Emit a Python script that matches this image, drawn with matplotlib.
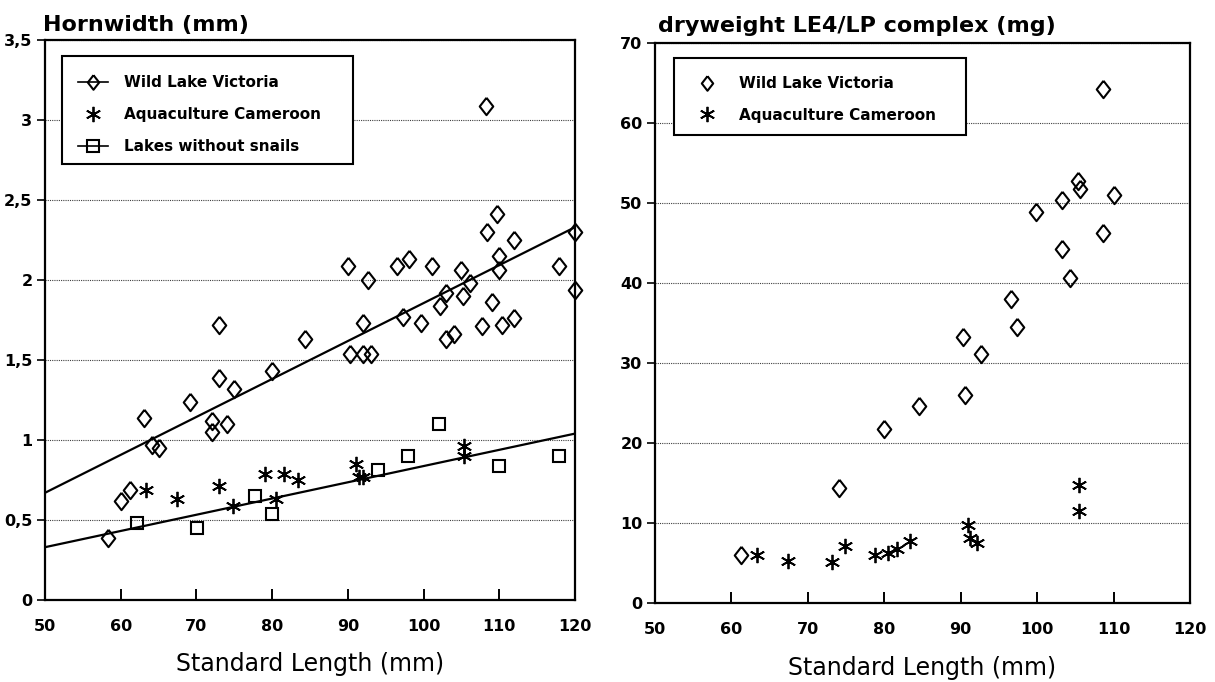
import matplotlib
matplotlib.use("Agg")

import matplotlib.pyplot as plt
from matplotlib.lines import Line2D
from matplotlib.patches import Rectangle

plt.rcParams["font.family"] = ["DejaVu Sans"]

# --- left panel: horn width vs standard length ---
wild_sl = [58.3, 60.1, 61.2, 63.1, 64.1, 65.0, 69.1, 72.1, 72.1, 73.0, 73.0, 74.0,
           75.0, 80.0, 84.3, 90.0, 90.3, 92.0, 92.0, 92.6, 93.1, 96.5, 97.3, 98.1,
           99.7, 101.1, 102.2, 102.9, 103.0, 104.0, 104.9, 105.2, 106.1, 107.7, 108.2,
           108.4, 109.0, 109.7, 110.0, 110.0, 110.4, 111.9, 111.9, 117.9, 120.0, 120.0]
wild_hw = [0.39, 0.62, 0.69, 1.14, 0.97, 0.95, 1.24, 1.12, 1.05, 1.72, 1.39, 1.10,
           1.32, 1.43, 1.63, 2.09, 1.54, 1.73, 1.54, 2.00, 1.54, 2.09, 1.77, 2.13,
           1.73, 2.09, 1.84, 1.63, 1.92, 1.66, 2.06, 1.90, 1.98, 1.71, 3.09,
           2.30, 1.86, 2.41, 2.15, 2.06, 1.72, 2.25, 1.76, 2.09, 2.30, 1.94]

aqua_sl = [63.3, 67.4, 73.0, 74.8, 79.0, 80.5, 81.6, 83.4, 91.1, 91.5, 92.0, 105.4, 105.4]
aqua_hw = [0.69, 0.63, 0.71, 0.59, 0.79, 0.63, 0.79, 0.75, 0.85, 0.77, 0.77, 0.96, 0.90]

nosnail_sl = [62.1, 70.1, 77.7, 80.0, 94.0, 97.9, 102.1, 110.0, 117.9]
nosnail_hw = [0.48, 0.45, 0.65, 0.54, 0.81, 0.90, 1.10, 0.84, 0.90]

# regression lines (end points)
fit_sl = [50, 120]
wild_fit = [0.67, 2.33]
pooled_fit = [0.33, 1.04]

hw_ticks = [0, 0.5, 1, 1.5, 2, 2.5, 3, 3.5]
hw_ticklabels = ["0", "0,5", "1", "1,5", "2", "2,5", "3", "3,5"]

# --- right panel: dry weight vs standard length ---
wild_sl_dw = [61.2, 74.1, 80.0, 84.5, 90.3, 90.5, 92.7, 96.6, 97.3, 99.9, 103.2,
              103.3, 104.3, 105.3, 105.6, 108.6, 108.6, 110.0]
wild_dw = [6.0, 14.4, 21.8, 24.6, 33.2, 26.0, 31.1, 38.0, 34.5, 48.9, 44.2,
           50.4, 40.6, 52.8, 51.8, 64.3, 46.2, 51.0]

aqua_sl_dw = [63.4, 67.4, 73.1, 74.9, 78.8, 80.5, 81.7, 83.4, 91.0, 91.2, 92.1, 105.5, 105.5]
aqua_dw = [6.0, 5.3, 5.1, 7.1, 6.0, 6.2, 6.8, 7.8, 9.8, 8.1, 7.5, 14.8, 11.5]

dw_ticks = [0, 10, 20, 30, 40, 50, 60, 70]
sl_ticks = [50, 60, 70, 80, 90, 100, 110, 120]

W, H = 1215, 682
fig = plt.figure(figsize=(W / 100, H / 100), dpi=100)
ax1 = fig.add_axes([45 / W, 82 / H, 530 / W, 560 / H])
ax2 = fig.add_axes([655 / W, 79 / H, 535 / W, 560 / H])

diamond_path = [(0, 1), (0.78, 0), (0, -1), (-0.78, 0), (0, 1)]
diamond = dict(marker=diamond_path, markersize=12.5, markerfacecolor="none",
               markeredgecolor="black", markeredgewidth=1.5, linestyle="none")
star = dict(marker=(6, 2, 0), markersize=11, markeredgecolor="black",
            markeredgewidth=1.3, linestyle="none")
square = dict(marker="s", markersize=8, markerfacecolor="none",
              markeredgecolor="black", markeredgewidth=1.5, linestyle="none")

ax1.plot(fit_sl, wild_fit, color="black", lw=1.6, zorder=2)
ax1.plot(fit_sl, pooled_fit, color="black", lw=1.6, zorder=2)
ax1.plot(wild_sl, wild_hw, clip_on=False, zorder=3, **diamond)
ax1.plot(aqua_sl, aqua_hw, clip_on=False, zorder=3, **star)
ax1.plot(nosnail_sl, nosnail_hw, clip_on=False, zorder=3, **square)

ax2.plot(wild_sl_dw, wild_dw, clip_on=False, zorder=3, **diamond)
ax2.plot(aqua_sl_dw, aqua_dw, clip_on=False, zorder=3, **star)

for ax, yt in ((ax1, hw_ticks), (ax2, dw_ticks)):
    ax.set_xlim(50, 120)
    ax.set_ylim(yt[0], yt[-1])
    ax.set_xticks(sl_ticks)
    ax.set_yticks(yt)
    ax.grid(axis="y", linestyle=(0, (1, 1)), linewidth=0.8, color="0.25")
    ax.set_axisbelow(True)
    for s in ax.spines.values():
        s.set_linewidth(1.6)
    ax.tick_params(axis="x", direction="in", length=8, width=1.4, pad=14,
                   labelsize=11.5)
    ax.tick_params(axis="y", direction="out", length=6, width=1.2, pad=3,
                   labelsize=11.5)
    for lab in ax.get_xticklabels() + ax.get_yticklabels():
        lab.set_fontweight("bold")
    ax.set_xlabel("Standard Length (mm)", fontsize=17, labelpad=13)

ax1.set_yticklabels(hw_ticklabels, fontweight="bold")

fig.text(43 / W, 1 - 31 / H, "Hornwidth (mm)", fontsize=16, fontweight="bold",
         va="baseline", ha="left")
fig.text(658 / W, 1 - 32 / H, "dryweight LE4/LP complex (mg)", fontsize=16,
         fontweight="bold", va="baseline", ha="left")

line_diamond = dict(diamond, linestyle="-", markersize=10.5)
line_square = dict(square, linestyle="-")
h_wild = Line2D([], [], color="black", lw=1.2, **line_diamond)
h_aqua = Line2D([], [], **star)
h_nosn = Line2D([], [], color="black", lw=1.2, **line_square)

leg_kw = dict(loc="upper left", frameon=False, prop={"weight": "bold", "size": 11},
              handlelength=2.0, handletextpad=1.05, borderpad=0,
              labelspacing=1.1, borderaxespad=0)
ax1.legend([h_wild, h_aqua, h_nosn],
           ["Wild Lake Victoria", "Aquaculture Cameroon", "Lakes without snails"],
           bbox_to_anchor=(0.062, 0.937), **leg_kw)
ax2.legend([Line2D([], [], **dict(diamond, markersize=10.5)), h_aqua],
           ["Wild Lake Victoria", "Aquaculture Cameroon"],
           bbox_to_anchor=(0.069, 0.941), **leg_kw)

# legend frames (axes fractions)
ax1.add_patch(Rectangle((0.032, 0.779), 0.549, 0.192, transform=ax1.transAxes,
                        fill=True, facecolor="white", edgecolor="black", lw=1.5,
                        zorder=4))
ax2.add_patch(Rectangle((0.0355, 0.836), 0.5455, 0.137, transform=ax2.transAxes,
                        fill=True, facecolor="white", edgecolor="black", lw=1.5,
                        zorder=4))
for ax in (ax1, ax2):
    ax.get_legend().set_zorder(5)

fig.savefig("out.png", dpi=100, facecolor="white")
plt.close(fig)
